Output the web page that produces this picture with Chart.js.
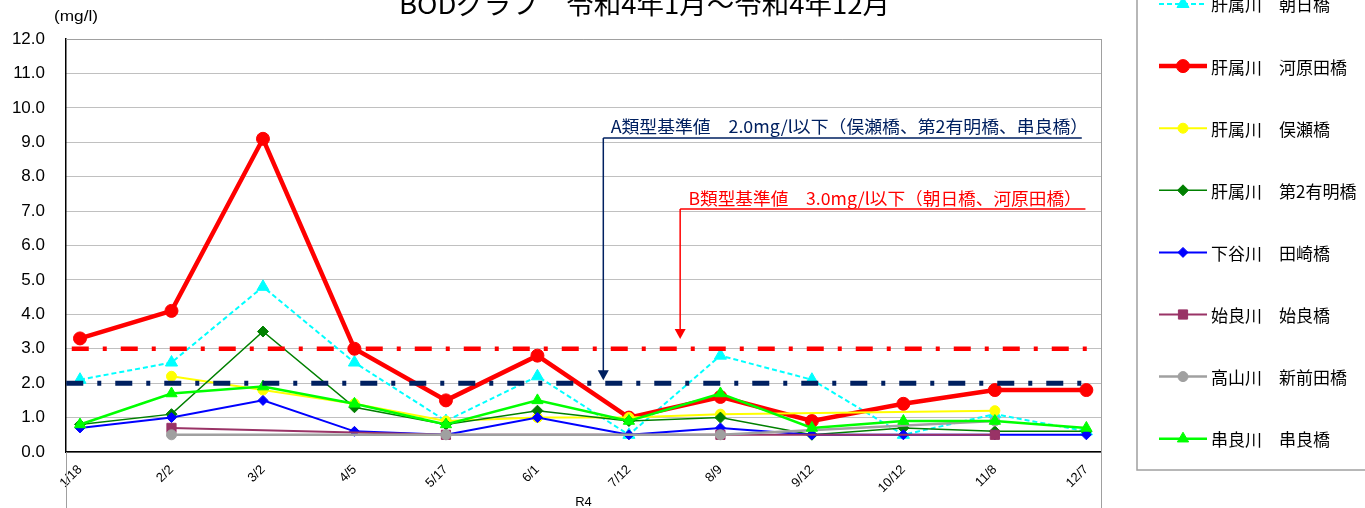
<!DOCTYPE html>
<html><head><meta charset="utf-8">
<script src="https://cdn.jsdelivr.net/npm/chart.js@4"></script>
<style>html,body{margin:0;padding:0;background:#fff;overflow:hidden}#wrap{position:relative;width:1365px;height:508px}</style>
</head><body><div id="wrap"><canvas id="c" width="1365" height="508"></canvas></div>
<script>
// ---- data ----
const categories = ['1/18','2/2','3/2','4/5','5/17','6/1','7/12','8/9','9/12','10/12','11/8','12/7'];
const asahi     = [2.1, 2.6, 4.8, 2.6, 0.9, 2.2, 0.5, 2.8, 2.1, 0.5, 1.1, 0.6];
const kawarada  = [3.3, 4.1, 9.1, 3.0, 1.5, 2.8, 1.0, 1.6, 0.9, 1.4, 1.8, 1.8];
const matase    = [null, 2.2, 1.8, 1.4, 0.9, 1.0, 1.0, 1.1, null, null, 1.2, null];
const daini     = [0.8, 1.1, 3.5, 1.3, 0.8, 1.2, 0.9, 1.0, 0.5, 0.7, 0.6, 0.6];
const tazaki    = [0.7, 1.0, 1.5, 0.6, 0.5, 1.0, 0.5, 0.7, 0.5, 0.5, 0.5, 0.5];
const aira      = [null, 0.7, null, null, 0.5, null, null, 0.5, null, null, 0.5, null];
const shinmaeda = [null, 0.5, null, null, 0.5, null, null, 0.5, null, null, 0.9, null];
const kushira   = [0.8, 1.7, 1.9, 1.4, 0.8, 1.5, 0.9, 1.7, 0.7, 0.9, 0.9, 0.7];
const yTicks = [0,1,2,3,4,5,6,7,8,9,10,11,12];
const STD_A = 2.0;
const STD_B = 3.0;
const seriesNames = ['肝属川　朝日橋','肝属川　河原田橋','肝属川　俣瀬橋','肝属川　第2有明橋','下谷川　田崎橋','始良川　始良橋','高山川　新前田橋','串良川　串良橋'];
const titleText = 'BODグラフ　令和4年1月～令和4年12月';
const unitText = '(mg/l)';
const xTitle = 'R4';
const noteA = 'A類型基準値　2.0mg/l以下（俣瀬橋、第2有明橋、串良橋）';
const noteB = 'B類型基準値　3.0mg/l以下（朝日橋、河原田橋）';

const toPts = arr => arr.map((v, i) => ({x: i, y: v}));
const XMIN = -0.153, XMAX = 11.16;

const styles = [
  {c:'#00FFFF', w:2,   dash:[5,3], ps:'triangle', r:7},
  {c:'#FF0000', w:4.5, dash:[],    ps:'circle',   r:6.5},
  {c:'#FFFF00', w:2,   dash:[],    ps:'circle',   r:5},
  {c:'#008000', w:1.5, dash:[],    ps:'rectRot',  r:5.5},
  {c:'#0000FF', w:2,   dash:[],    ps:'rectRot',  r:5},
  {c:'#993366', w:2,   dash:[],    ps:'rect',     r:6.5},
  {c:'#A0A0A0', w:2.5, dash:[],    ps:'circle',   r:5},
  {c:'#00FF00', w:2.5, dash:[],    ps:'triangle', r:6.5}
];
const seriesData = [asahi, kawarada, matase, daini, tazaki, aira, shinmaeda, kushira];

const datasets = seriesData.map((arr, k) => ({
  label: seriesNames[k],
  data: toPts(arr),
  borderColor: styles[k].c,
  backgroundColor: styles[k].c,
  borderWidth: styles[k].w,
  borderDash: styles[k].dash,
  pointStyle: styles[k].ps,
  pointRadius: styles[k].r,
  pointBackgroundColor: styles[k].c,
  pointBorderColor: styles[k].c,
  pointBorderWidth: 1,
  spanGaps: true,
  tension: 0,
  fill: false,
  order: 10 - k
}));
datasets.push({
  label: 'B', data: [{x: -0.09, y: STD_B}, {x: 11.05, y: STD_B}],
  borderColor: '#FF0000', borderWidth: 4.5, borderDash: [17,14,4,14], borderCapStyle: 'butt',
  pointRadius: 0, fill: false, order: 1
});
datasets.push({
  label: 'A', data: [{x: -0.15, y: STD_A}, {x: 11.08, y: STD_A}],
  borderColor: '#002060', borderWidth: 5, borderDash: [17,14,4,14], borderCapStyle: 'butt',
  pointRadius: 0, fill: false, order: 0
});

function drawMarker(ctx, ps, r, x, y, color) {
  ctx.save();
  ctx.fillStyle = color; ctx.strokeStyle = color; ctx.lineWidth = 1; ctx.setLineDash([]);
  ctx.beginPath();
  if (ps === 'circle') { ctx.arc(x, y, r, 0, Math.PI * 2); }
  else if (ps === 'triangle') {
    let a = 0;
    ctx.moveTo(x + Math.sin(a) * r, y - Math.cos(a) * r);
    a += 2 * Math.PI / 3; ctx.lineTo(x + Math.sin(a) * r, y - Math.cos(a) * r);
    a += 2 * Math.PI / 3; ctx.lineTo(x + Math.sin(a) * r, y - Math.cos(a) * r);
    ctx.closePath();
  } else if (ps === 'rectRot') {
    ctx.moveTo(x - r, y); ctx.lineTo(x, y - r); ctx.lineTo(x + r, y); ctx.lineTo(x, y + r); ctx.closePath();
  } else if (ps === 'rect') {
    const s = Math.SQRT1_2 * r; ctx.rect(x - s, y - s, 2 * s, 2 * s);
  }
  ctx.fill(); ctx.stroke();
  ctx.restore();
}

function fitText(ctx, text, x, y, w) {
  const m = ctx.measureText(text).width;
  ctx.save(); ctx.translate(x, y); ctx.scale(w / m, 1); ctx.fillText(text, 0, 0); ctx.restore();
}

const CJK = '"Noto Sans CJK JP", "Noto Sans", sans-serif';

const decor = {
  id: 'decor',
  beforeDatasetsDraw(chart) {
    const {ctx, chartArea: ca} = chart;
    ctx.save();
    ctx.strokeStyle = '#A0A0A0'; ctx.lineWidth = 1;
    ctx.beginPath();
    ctx.moveTo(ca.left, ca.top + 0.5); ctx.lineTo(ca.right + 0.5, ca.top + 0.5);
    ctx.moveTo(ca.right + 0.5, ca.top); ctx.lineTo(ca.right + 0.5, chart.height);
    ctx.moveTo(ca.left + 0.5, ca.bottom); ctx.lineTo(ca.left + 0.5, chart.height);
    ctx.stroke();
    ctx.restore();
  },
  afterDraw(chart) {
    const {ctx, chartArea: ca} = chart;
    const xs = chart.scales.x, ys = chart.scales.y;
    ctx.save();
    // title (partly cropped at the top)
    ctx.fillStyle = '#000';
    ctx.font = '26px ' + CJK;
    ctx.textBaseline = 'alphabetic'; ctx.textAlign = 'left';
    fitText(ctx, titleText, 399, 14, 491);
    // unit
    ctx.font = '15px "Liberation Sans", Arial, sans-serif'; ctx.textBaseline = 'middle';
    fitText(ctx, unitText, 54, 17, 44);
    // x title
    ctx.font = '13px "Liberation Sans", Arial, sans-serif'; ctx.textAlign = 'center';
    ctx.fillText(xTitle, (ca.left + ca.right) / 2, 502);
    ctx.textAlign = 'left';

    // annotation A
    const navy = '#002060';
    ctx.fillStyle = navy; ctx.strokeStyle = navy;
    ctx.font = '17px ' + CJK; ctx.textBaseline = 'middle';
    fitText(ctx, noteA, xs.getPixelForValue(5.80), ys.getPixelForValue(9.45), xs.getPixelForValue(11.02) - xs.getPixelForValue(5.80));
    ctx.lineWidth = 1.5;
    let ax = xs.getPixelForValue(5.72), ay = ys.getPixelForValue(9.12);
    ctx.beginPath();
    ctx.moveTo(ax, ay); ctx.lineTo(xs.getPixelForValue(10.95), ay);
    ctx.moveTo(ax, ay); ctx.lineTo(ax, ys.getPixelForValue(STD_A) - 12);
    ctx.stroke();
    let tip = ys.getPixelForValue(STD_A) - 3;
    ctx.beginPath(); ctx.moveTo(ax - 5.5, tip - 10); ctx.lineTo(ax + 5.5, tip - 10); ctx.lineTo(ax, tip); ctx.closePath(); ctx.fill();

    // annotation B
    const red = '#FF0000';
    ctx.fillStyle = red; ctx.strokeStyle = red;
    fitText(ctx, noteB, xs.getPixelForValue(6.65), ys.getPixelForValue(7.35), xs.getPixelForValue(10.95) - xs.getPixelForValue(6.65));
    let bx = xs.getPixelForValue(6.56), by = ys.getPixelForValue(7.06);
    ctx.beginPath();
    ctx.moveTo(bx, by); ctx.lineTo(xs.getPixelForValue(10.99), by);
    ctx.moveTo(bx, by); ctx.lineTo(bx, ys.getPixelForValue(3.28) - 9);
    ctx.stroke();
    tip = ys.getPixelForValue(3.28);
    ctx.beginPath(); ctx.moveTo(bx - 5.5, tip - 10); ctx.lineTo(bx + 5.5, tip - 10); ctx.lineTo(bx, tip); ctx.closePath(); ctx.fill();

    // legend box
    ctx.strokeStyle = '#A0A0A0'; ctx.lineWidth = 1.5;
    ctx.strokeRect(1137, -30, 300, 500);
    ctx.font = '17px ' + CJK; ctx.textBaseline = 'middle'; ctx.fillStyle = '#000';
    for (let k = 0; k < seriesNames.length; k++) {
      const y = 4 + k * 62.1;
      const st = styles[k];
      ctx.save();
      ctx.strokeStyle = st.c; ctx.lineWidth = st.w; ctx.setLineDash(st.dash);
      ctx.beginPath(); ctx.moveTo(1159, y); ctx.lineTo(1207, y); ctx.stroke();
      ctx.restore();
      drawMarker(ctx, st.ps, st.r, 1183, y, st.c);
      ctx.fillStyle = '#000';
      ctx.fillText(seriesNames[k], 1211, y + 1);
    }
    ctx.restore();
  }
};

new Chart(document.getElementById('c'), {
  type: 'line',
  data: { datasets },
  options: {
    responsive: false, animation: false,
    layout: { padding: { top: 39, right: 264, left: 0, bottom: 0 } },
    plugins: { legend: { display: false }, title: { display: false }, tooltip: { enabled: false } },
    scales: {
      x: {
        type: 'linear', min: XMIN, max: XMAX,
        afterBuildTicks: (axis) => { axis.ticks = categories.map((c, i) => ({ value: i })); },
        afterFit: (scale) => { scale.height = 56; },
        grid: { display: false, drawTicks: false },
        border: { display: true, color: '#000', width: 1.5 },
        ticks: {
          autoSkip: false, maxRotation: 45, minRotation: 45, padding: 10,
          color: '#000', font: { family: '"Liberation Sans", Arial, sans-serif', size: 13 },
          callback: (v) => categories[v]
        }
      },
      y: {
        min: 0, max: 12,
        afterBuildTicks: (axis) => { axis.ticks = yTicks.map(v => ({ value: v })); },
        afterFit: (scale) => { scale.width = 66; },
        grid: { color: '#808080', lineWidth: 1, drawTicks: false },
        border: { display: true, color: '#000', width: 1.5, dash: [1, 1] },
        ticks: {
          padding: 21, color: '#000',
          font: { family: '"Liberation Sans", Arial, sans-serif', size: 17 },
          callback: (v) => Number(v).toFixed(1)
        }
      }
    }
  },
  plugins: [decor]
});
</script>
</body></html>
